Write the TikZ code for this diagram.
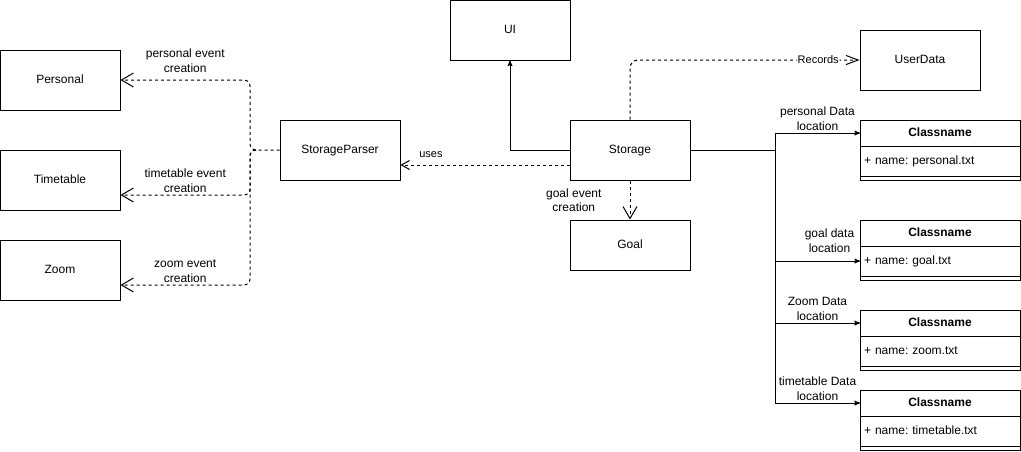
\documentclass[tikz,border=0pt]{standalone}
\usepackage{fontspec}
\setmainfont{Liberation Sans}
\frenchspacing
\usetikzlibrary{arrows,arrows.meta,positioning}

\begin{document}
\begin{tikzpicture}[x=1pt,y=-1pt,line width=1pt,>=stealth',node distance=100pt]
	\tikzstyle{box}=[draw,rectangle,minimum width=120pt,minimum height=60pt,
	                 text height=8.5pt,text depth=2pt,font=\fontsize{12}{14}\selectfont]
	\tikzstyle{chead}=[draw,minimum width=160pt,minimum height=26pt,outer sep=0pt,
	                   text height=8.5pt,text depth=2pt,font=\bfseries\fontsize{12}{14}\selectfont]
	\tikzstyle{cattr}=[draw,minimum height=30pt,text width=152pt,inner xsep=4pt,
	                   text height=8.5pt,text depth=2pt,align=left,outer sep=0pt,
	                   font=\fontsize{12}{14}\selectfont]
	\tikzstyle{cfoot}=[draw,minimum width=160pt,minimum height=4pt,inner sep=0pt,outer sep=0pt]
	\tikzstyle{lbl}=[font=\fontsize{12}{14.5}\selectfont,align=center,inner sep=2pt]
	\tikzstyle{small lbl}=[font=\fontsize{11}{13}\selectfont,inner sep=1pt]
	\tikzstyle{dep}=[draw,dash pattern=on 3pt off 3pt,
	                 -{Straight Barb[length=12pt,width=14pt]}]

	\useasboundingbox (0,0) rectangle (1021,451);

	% left column
	\node[box]	(Personal)	at (60,80)	{Personal};
	\node[box]	(Timetable)	[below of=Personal]	{Timetable};
	\node[box]	(Zoom)	[below of=Timetable,node distance=90pt]	{Zoom};
	\node[box]	(SP)	at (340,150)	{StorageParser};

	% middle
	\node[box]	(UI)	at (510,30)	{UI};
	\node[box]	(Storage)	at (630,150)	{Storage};
	\node[box,minimum height=50pt]	(Goal)	at (630,245)	{Goal};
	\node[box]	(UserData)	at (920,60)	{UserData};

	% data files
	\node[chead]	(PH)	at (940,133)	{Classname};
	\node[cattr,below=0pt of PH]	(PA)	{+ name: personal.txt};
	\node[cfoot,below=0pt of PA]	(PF)	{};
	\node[chead]	(GH)	at (940,233)	{Classname};
	\node[cattr,below=0pt of GH]	(GA)	{+ name: goal.txt};
	\node[cfoot,below=0pt of GA]	(GF)	{};
	\node[chead]	(ZH)	at (940,323)	{Classname};
	\node[cattr,below=0pt of ZH]	(ZA)	{+ name: zoom.txt};
	\node[cfoot,below=0pt of ZA]	(ZF)	{};
	\node[chead]	(TH)	at (940,403)	{Classname};
	\node[cattr,below=0pt of TH]	(TA)	{+ name: timetable.txt};
	\node[cfoot,below=0pt of TA]	(TF)	{};

	\coordinate (fork) at (250,150);
	\coordinate (stub) at (256,150);
	\coordinate (bus) at (775,150);

	% parser creates events
	\draw[dep,rounded corners=6pt] (SP.west) -- (fork) |- node[lbl,pos=0.75,above=5pt] (lPersonal) {personal event\\creation} (Personal.east);
	\draw[dep,rounded corners=6pt] (stub) -- (fork) |- node[lbl,pos=0.75,above] (lTimetable) {timetable event\\creation} ([yshift=-15pt]Timetable.east);
	\draw[dep,rounded corners=6pt] (stub) -- (fork) |- node[lbl,pos=0.75,above] (lZoom) {zoom event\\creation} ([yshift=-15pt]Zoom.east);

	% storage
	\draw[->] (Storage.west) -| (UI.south);
	\draw[dep,-{Straight Barb[length=8pt,width=9pt]}] ([yshift=-15pt]Storage.west) -- node[small lbl,pos=0.82,above=6pt] (lUses) {uses} ([yshift=-15pt]SP.east);
	\draw[dep] (Storage.south) -- node[lbl,left=26pt] (lGoal) {goal event\\creation} (Goal.north);
	\draw[dep,rounded corners=8pt,-{Straight Barb[length=12pt,width=9pt]}] (Storage.north) |- node[small lbl,pos=0.91,fill=white] (lRecords) {Records} (UserData.west);

	% file locations
	\draw[->] (Storage.east) -- (bus) |- node[lbl,pos=0.75,above] (lPData) {personal Data\\location} (PH.west);
	\draw[->] (bus) |- node[lbl,pos=0.75,above=6pt,xshift=12pt] (lGData) {goal data\\location} (GA.west);
	\draw[->] (bus) |- node[lbl,pos=0.75,above] (lZData) {Zoom Data\\location} (ZH.west);
	\draw[->] (bus) |- node[lbl,pos=0.75,above] (lTData) {timetable Data\\location} (TH.west);
\end{tikzpicture}
\end{document}
